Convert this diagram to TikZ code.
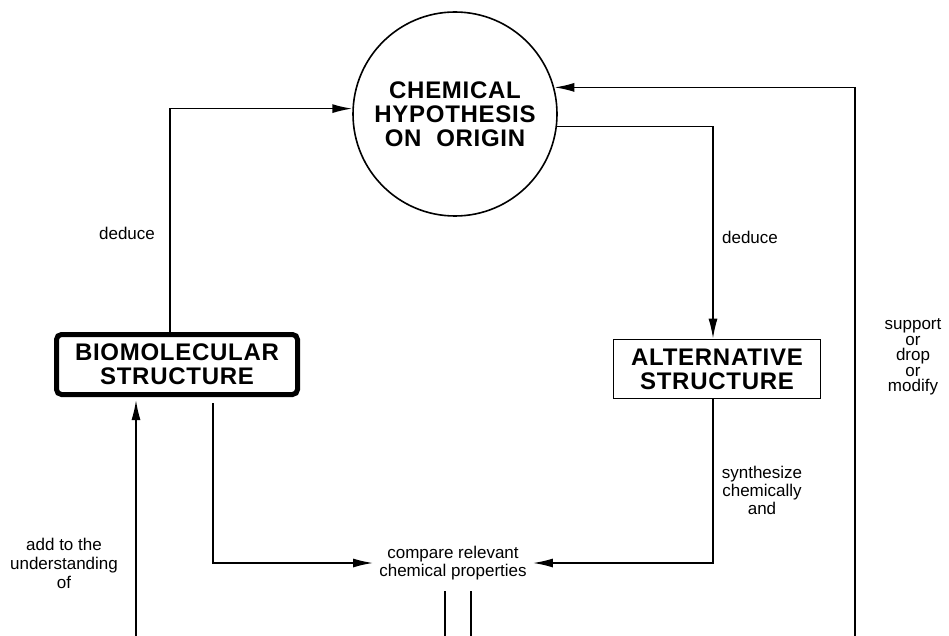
\documentclass[tikz,border=0pt]{standalone}
\usepackage{fontspec}
\setmainfont{Liberation Sans}
\usetikzlibrary{arrows.meta}

\tikzset{
  linea/.style={line width=1.6pt},
  freccia/.style={linea, -{Latex[length=20pt,width=9pt]}},
  titolo/.style={font=\fontsize{24}{24}\selectfont\bfseries\addfontfeatures{LetterSpace=3}, align=center},
  testo/.style={font=\fontsize{17}{19}\selectfont, align=center},
}

\begin{document}
\begin{tikzpicture}[x=1pt, y=-1pt]
        \useasboundingbox (0,0) rectangle (949,636);

        % Disegna i nodi
        \node[circle, draw, linea, minimum size=204pt, inner sep=0pt, titolo] (ipotesi) at (455,114) {CHEMICAL\\HYPOTHESIS\\ON~~ORIGIN};
        \node[draw, line width=5pt, rounded corners=5pt, minimum width=241pt, minimum height=60pt, titolo] (bio) at (177,364.5) {BIOMOLECULAR\\STRUCTURE};
        \node[draw, linea, minimum width=207pt, minimum height=59pt, titolo] (alt) at (717,369) {ALTERNATIVE\\STRUCTURE};
        \node[testo, inner sep=6pt, font=\fontsize{17}{18}\selectfont] (confronto) at (453,563) {compare relevant\\chemical properties};

        % Disegna le etichette
        \node[testo] (ded1) at (127,233) {deduce};
        \node[testo] (ded2) at (750,237) {deduce};
        \node[testo, font=\fontsize{17}{15.5}\selectfont] (supporto) at (913,357) {support\\or\\drop\\or\\modify};
        \node[testo, font=\fontsize{17}{18}\selectfont] (sintesi) at (762,490) {synthesize\\chemically\\and};
        \node[testo] (aggiungi) at (64,563) {add to the\\understanding\\of};

        % Punti ausiliari
        \coordinate (sx1) at (170,0);
        \coordinate (sx2) at (213,0);
        \coordinate (sx3) at (136,636);
        \coordinate (dx1) at (855,636);
        \coordinate (g1) at (445,591);
        \coordinate (g2) at (471,591);

        % Disegna le frecce
        \draw[freccia] (bio.north -| sx1) |- (ipotesi.177);
        \draw[freccia] (ipotesi.-7) -| ([xshift=-4pt]alt.north);
        \draw[freccia] (dx1) |- (ipotesi.15);
        \draw[freccia] ([xshift=-4pt]alt.south) |- (confronto.east);
        \draw[freccia] ([yshift=-6pt]bio.south -| sx2) |- (confronto.west);
        \draw[freccia] (sx3) -- ([yshift=-3pt]bio.south -| sx3);

        % Doppia linea in basso
        \draw[linea] (g1) -- (g1 |- dx1);
        \draw[linea] (g2) -- (g2 |- dx1);
\end{tikzpicture}
\end{document}
